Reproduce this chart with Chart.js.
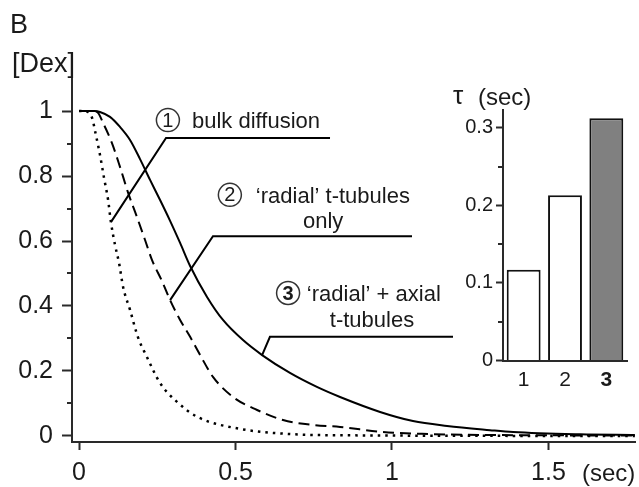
<!DOCTYPE html>
<html>
<head>
<meta charset="utf-8">
<script src="https://cdn.jsdelivr.net/npm/chart.js@4.4.1/dist/chart.umd.min.js"></script>
<style>
  html, body { margin: 0; padding: 0; background: #fff; }
  #wrap { position: relative; width: 639px; height: 487px; }
  #main { position: absolute; left: 0; top: 0; }
  #tau { position: absolute; left: 440px; top: 75px; }
</style>
</head>
<body>
<div id="wrap">
  <canvas id="main" width="639" height="487"></canvas>
  <canvas id="tau" width="199" height="320"></canvas>
</div>
<script>
// Dex washout time courses (time in sec, normalised [Dex])
var bulkT   = [0, 0.029, 0.042, 0.054, 0.067, 0.080, 0.093, 0.102, 0.115, 0.128, 0.141, 0.163, 0.188, 0.217, 0.259, 0.313, 0.380, 0.514, 0.674, 0.866, 1.776];
var bulkDex = [1, 0.997, 0.978, 0.926, 0.865, 0.794, 0.726, 0.658, 0.588, 0.532, 0.458, 0.388, 0.305, 0.243, 0.163, 0.105, 0.058, 0.022, 0.006, 0.002, 0];

var radialT   = [0, 0.042, 0.058, 0.077, 0.105, 0.131, 0.157, 0.185, 0.211, 0.233, 0.265, 0.291, 0.323, 0.355, 0.387, 0.428, 0.492, 0.569, 0.652, 0.748, 0.834, 0.971, 1.121, 1.313, 1.776];
var radialDex = [1, 1, 0.997, 0.963, 0.902, 0.828, 0.748, 0.674, 0.603, 0.542, 0.477, 0.418, 0.357, 0.305, 0.249, 0.182, 0.120, 0.080, 0.049, 0.034, 0.028, 0.012, 0.006, 0.003, 0.0015];

var axialT   = [0, 0.051, 0.067, 0.099, 0.131, 0.163, 0.195, 0.227, 0.259, 0.291, 0.323, 0.355, 0.409, 0.460, 0.524, 0.585, 0.674, 0.760, 0.834, 0.962, 1.067, 1.176, 1.313, 1.387, 1.601, 1.776];
var axialDex = [1, 1, 0.997, 0.982, 0.951, 0.911, 0.852, 0.788, 0.726, 0.662, 0.594, 0.523, 0.428, 0.357, 0.295, 0.249, 0.194, 0.151, 0.120, 0.074, 0.046, 0.031, 0.018, 0.012, 0.005, 0.003];

var timeTicks = [0, 0.5, 1, 1.5];
var dexTicks = [0, 0.2, 0.4, 0.6, 0.8, 1];
var dexMinor = [0.1, 0.3, 0.5, 0.7, 0.9];

// time constants of the three fits
var tauLabels = ['1', '2', '3'];
var tauValues = [0.117, 0.213, 0.3125];
var tauTicks = [0, 0.1, 0.2, 0.3];
var tauMinor = [0.05, 0.15, 0.25];

var FONT = '"Liberation Sans", Arial, Helvetica, sans-serif';
var ink = '#1a1a1a';
var axisInk = '#2a2a2a';
Chart.defaults.font.family = FONT;
Chart.defaults.color = ink;

function pts(t, v) {
  return t.map(function (x, i) { return { x: x, y: v[i] }; });
}
function tickList(vals) {
  return vals.map(function (v) { return { value: v }; });
}

// labels with leader lines, in data units
var notes = [
  { num: '1', bold: false, ring: [0.284, 0.972],
    lines: [{ text: 'bulk diffusion', x: 0.361, y: 0.966, align: 'left' }],
    leader: [[0.102, 0.658], [0.278, 0.917], [0.802, 0.917]] },
  { num: '2', bold: false, ring: [0.482, 0.742],
    lines: [{ text: '\u2018radial\u2019 t-tubules', x: 0.565, y: 0.735, align: 'left' },
            { text: 'only', x: 0.780, y: 0.658, align: 'center' }],
    leader: [[0.291, 0.418], [0.428, 0.615], [1.064, 0.615]] },
  { num: '3', bold: true, ring: [0.668, 0.440],
    lines: [{ text: '\u2018radial\u2019 + axial', x: 0.728, y: 0.434, align: 'left' },
            { text: 't-tubules', x: 0.936, y: 0.354, align: 'center' }],
    leader: [[0.585, 0.249], [0.610, 0.305], [1.195, 0.305]] }
];

var mainDecor = {
  id: 'mainDecor',
  afterDraw: function (chart) {
    var c = chart.ctx, xs = chart.scales.x, ys = chart.scales.y;
    var left = chart.chartArea.left;
    c.save();
    // minor ticks on the y axis
    c.strokeStyle = axisInk;
    c.lineWidth = 2;
    dexMinor.forEach(function (v) {
      var y = Math.round(ys.getPixelForValue(v));
      c.beginPath(); c.moveTo(left - 5, y); c.lineTo(left, y); c.stroke();
    });
    // leader lines
    c.strokeStyle = '#000';
    c.lineWidth = 2;
    notes.forEach(function (n) {
      c.beginPath();
      n.leader.forEach(function (p, i) {
        var px = xs.getPixelForValue(p[0]), py = ys.getPixelForValue(p[1]);
        if (i === 0) c.moveTo(px, py); else c.lineTo(px, py);
      });
      c.stroke();
    });
    // circled numbers and label text
    notes.forEach(function (n) {
      var cx = xs.getPixelForValue(n.ring[0]), cy = ys.getPixelForValue(n.ring[1]);
      c.beginPath();
      c.arc(cx, cy, 11.5, 0, Math.PI * 2);
      c.strokeStyle = '#333';
      c.lineWidth = 1.5;
      c.stroke();
      c.fillStyle = ink;
      c.font = (n.bold ? 'bold ' : '') + '20px ' + FONT;
      c.textAlign = 'center';
      c.textBaseline = 'middle';
      c.fillText(n.num, cx, cy + 1);
      c.font = '22px ' + FONT;
      n.lines.forEach(function (l) {
        c.textAlign = l.align;
        c.fillText(l.text, xs.getPixelForValue(l.x), ys.getPixelForValue(l.y));
      });
    });
    // panel letter, axis names
    c.fillStyle = ink;
    c.textAlign = 'left';
    c.textBaseline = 'alphabetic';
    c.font = '27px ' + FONT;
    c.fillText('B', 10, 33);
    c.fillText('[Dex]', 12, 72);
    c.font = '24px ' + FONT;
    c.fillText('(sec)', 582, 481);
    c.restore();
  }
};

new Chart(document.getElementById('main').getContext('2d'), {
  type: 'line',
  data: {
    datasets: [
      { label: 'bulk diffusion', data: pts(bulkT, bulkDex), borderDash: [2.5, 5], borderWidth: 2.5 },
      { label: '\u2018radial\u2019 t-tubules only', data: pts(radialT, radialDex), borderDash: [11, 6] },
      { label: '\u2018radial\u2019 + axial t-tubules', data: pts(axialT, axialDex), borderDash: [] }
    ]
  },
  options: {
    responsive: false,
    animation: false,
    layout: { padding: { left: 0, top: 79, right: 4, bottom: 0 } },
    elements: {
      point: { radius: 0 },
      line: { borderColor: '#000', borderWidth: 2, cubicInterpolationMode: 'monotone', fill: false, borderCapStyle: 'butt' }
    },
    plugins: { legend: { display: false }, tooltip: { enabled: false } },
    scales: {
      x: {
        type: 'linear',
        min: -0.0224,
        max: 1.7764,
        afterBuildTicks: function (s) { s.ticks = tickList(timeTicks); },
        afterFit: function (s) { s.height = 45; },
        grid: { drawOnChartArea: false, tickLength: 8, tickWidth: 2, tickColor: axisInk },
        border: { color: axisInk, width: 2 },
        ticks: { font: { size: 25 }, color: ink, padding: 8, maxRotation: 0,
                 callback: function (v) { return String(v); } }
      },
      y: {
        min: -0.0185,
        max: 1.0985,
        afterBuildTicks: function (s) { s.ticks = tickList(dexTicks); },
        afterFit: function (s) { s.width = 72; },
        grid: { drawOnChartArea: false, tickLength: 10, tickWidth: 2, tickColor: axisInk },
        border: { color: axisInk, width: 2 },
        ticks: { font: { size: 25 }, color: ink, padding: 9,
                 callback: function (v) { return String(v); } }
      }
    }
  },
  plugins: [mainDecor]
});

var tauDecor = {
  id: 'tauDecor',
  afterDraw: function (chart) {
    var c = chart.ctx, ys = chart.scales.y;
    var left = chart.chartArea.left;
    c.save();
    c.strokeStyle = axisInk;
    c.lineWidth = 2;
    tauMinor.forEach(function (v) {
      var y = Math.round(ys.getPixelForValue(v));
      c.beginPath(); c.moveTo(left - 5, y); c.lineTo(left, y); c.stroke();
    });
    c.fillStyle = ink;
    c.textBaseline = 'alphabetic';
    c.textAlign = 'left';
    c.font = '26px ' + FONT;
    c.fillText('\u03c4', 13, 29);
    c.font = '24px ' + FONT;
    c.fillText('(sec)', 38, 30);
    c.restore();
  }
};

new Chart(document.getElementById('tau').getContext('2d'), {
  type: 'bar',
  data: {
    labels: tauLabels,
    datasets: [{
      data: tauValues,
      backgroundColor: ['#ffffff', '#ffffff', '#808080'],
      borderColor: '#111',
      borderWidth: 2,
      barPercentage: 0.82,
      categoryPercentage: 1
    }]
  },
  options: {
    responsive: false,
    animation: false,
    layout: { padding: { left: 0, top: 35, right: 12, bottom: 0 } },
    plugins: { legend: { display: false }, tooltip: { enabled: false } },
    scales: {
      x: {
        afterFit: function (s) { s.height = 34.5; },
        grid: { drawOnChartArea: false, drawTicks: false },
        border: { color: axisInk, width: 2 },
        ticks: {
          color: ink,
          padding: 7,
          font: function (ctx) { return { size: 21, weight: ctx.index === 2 ? 'bold' : 'normal' }; }
        }
      },
      y: {
        min: 0,
        max: 0.323,
        afterBuildTicks: function (s) { s.ticks = tickList(tauTicks); },
        afterFit: function (s) { s.width = 63; },
        grid: { drawOnChartArea: false, tickLength: 7, tickWidth: 2, tickColor: axisInk },
        border: { color: axisInk, width: 2 },
        ticks: { font: { size: 20 }, color: ink, padding: 3,
                 callback: function (v) { return String(v); } }
      }
    }
  },
  plugins: [tauDecor]
});
</script>
</body>
</html>
